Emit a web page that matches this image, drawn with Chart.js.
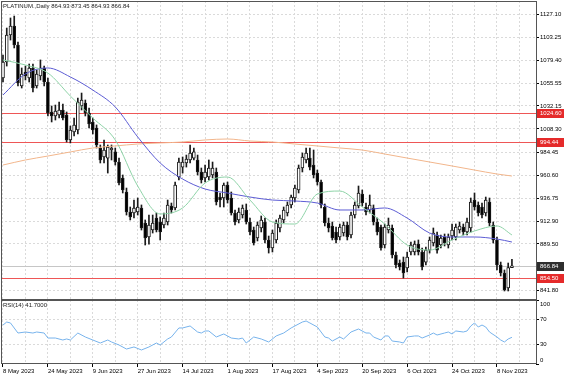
<!DOCTYPE html>
<html><head><meta charset="utf-8">
<script src="https://cdn.jsdelivr.net/npm/chart.js@4.4.0/dist/chart.umd.min.js"></script>
<style>
html,body{margin:0;padding:0;background:#fff;width:564px;height:376px;overflow:hidden;}
#wrap{position:relative;width:564px;height:376px;}
canvas{position:absolute;left:0;}
#main{top:0}
#rsi{top:300px}
.lbl{position:absolute;font:6px "Liberation Sans",Arial,sans-serif;color:#222;white-space:pre;line-height:7px;}
</style></head><body>
<div id="wrap">
<canvas id="main" width="564" height="300"></canvas>
<canvas id="rsi" width="564" height="76"></canvas>
<div class="lbl" style="left:3px;top:3px">PLATINUM.,Daily 864.93 873.45 864.93 866.84</div>
<div class="lbl" style="left:3px;top:302px">RSI(14) 41.7000</div>
</div>
<script>
// ---------- data ----------
const dateLabels = ['8 May 2023','24 May 2023','9 Jun 2023','27 Jun 2023','14 Jul 2023','1 Aug 2023','17 Aug 2023','4 Sep 2023','20 Sep 2023','6 Oct 2023','24 Oct 2023','8 Nov 2023'];
const priceTicks = [1127.10,1103.25,1079.40,1055.55,1032.15,1008.30,984.45,960.60,936.75,912.90,889.50,841.80];
const rsiTicks = [0,30,70,100];
const hLevels = [1024.60, 994.44, 854.50];
const bidPrice = 866.84;

const openP = [1060.9,1077.5,1105.4,1114.7,1095.1,1052.7,1067.1,1060.9,1071.3,1052.7,
1063.0,1071.3,1056.8,1025.8,1021.7,1022.7,1027.9,1022.7,996.9,1005.1,
1007.2,1032.0,1035.1,1024.8,1015.5,1009.3,988.6,979.3,978.2,986.5,
984.5,974.1,957.6,943.1,922.4,921.4,922.4,926.6,911.1,896.6,
903.8,916.2,912.1,909.0,912.1,928.6,926.6,958.6,968.9,973.1,
976.2,978.2,976.2,963.8,957.6,958.6,960.7,963.8,937.9,936.9,
950.3,936.9,921.4,914.2,919.3,924.5,912.1,903.8,895.6,905.9,
912.1,893.5,885.2,893.5,905.9,914.2,921.4,929.7,936.9,945.2,
967.9,976.2,978.2,971.0,962.7,953.4,927.6,911.1,908.0,901.8,
896.6,900.7,909.0,898.7,919.3,928.6,941.0,927.6,924.5,926.6,
912.1,906.9,888.3,903.8,905.9,878.0,869.7,870.7,864.5,881.1,
881.1,889.3,881.1,870.7,883.1,890.4,898.7,888.3,896.6,888.3,
897.6,896.6,903.8,906.9,901.8,905.9,934.8,929.7,927.6,921.4,
932.8,909.0,893.5,867.6,859.4,843.9,864.93];
const highP = [1084.7,1112.6,1123.0,1125.0,1098.2,1071.3,1073.3,1075.4,1075.4,1069.2,
1079.6,1073.3,1060.9,1032.0,1033.0,1036.1,1034.1,1025.8,1011.3,1019.6,
1040.3,1045.4,1038.2,1029.9,1019.6,1012.4,991.7,996.9,991.7,991.7,
988.6,978.2,960.7,947.2,927.6,934.8,936.9,929.7,914.2,919.3,
919.3,921.4,917.3,921.4,934.8,931.7,953.4,978.2,979.3,981.3,
991.7,988.6,981.3,967.9,971.0,976.2,974.1,967.9,942.1,952.4,
953.4,943.1,924.5,926.6,929.7,930.7,916.2,906.9,912.1,918.3,
916.2,897.6,903.8,914.2,919.3,927.6,932.8,940.0,950.3,971.0,
983.4,988.6,988.6,986.5,965.8,955.5,930.7,916.2,912.1,906.9,
910.0,912.1,912.1,922.4,932.8,949.3,945.2,931.7,940.0,929.7,
916.2,909.0,910.0,916.2,909.0,881.1,872.8,875.9,881.1,891.4,
892.5,893.5,885.2,886.2,896.6,905.9,901.8,898.7,899.7,899.7,
910.0,910.0,912.1,910.0,916.2,936.9,942.1,932.8,931.7,937.9,
936.9,912.1,896.6,870.7,862.5,869.7,873.45];
const lowP = [1056.8,1073.3,1100.2,1092.0,1052.7,1050.6,1058.9,1056.8,1046.5,1050.6,
1058.9,1052.7,1021.7,1015.5,1017.5,1019.6,1017.5,994.8,993.8,1001.0,
1003.1,1027.9,1021.7,1009.3,1003.1,988.6,973.1,973.1,962.7,976.2,
971.0,950.3,942.1,919.3,914.2,916.2,919.3,903.8,888.3,889.3,
900.7,901.8,893.5,905.9,909.0,921.4,924.5,955.5,962.7,968.9,
973.1,976.2,960.7,952.4,953.4,955.5,957.6,929.7,927.6,927.6,
931.7,919.3,909.0,911.1,916.2,910.0,898.7,888.3,892.5,901.8,
890.4,880.0,881.1,890.4,901.8,911.1,918.3,926.6,932.8,942.1,
963.8,973.1,965.8,957.6,950.3,926.6,908.0,901.8,893.5,890.4,
893.5,897.6,893.5,895.6,916.2,926.6,928.6,919.3,921.4,909.0,
898.7,883.1,885.2,900.7,874.9,864.5,862.5,854.2,860.4,878.0,
878.0,878.0,862.5,867.6,880.0,887.3,880.0,885.2,887.3,885.2,
893.5,893.5,900.7,898.7,898.7,901.8,924.5,918.3,916.2,918.3,
908.0,890.4,862.5,856.3,840.8,840.8,864.93];
const closeP = [1077.5,1105.4,1114.7,1095.1,1055.8,1065.1,1063.0,1071.3,1050.6,1065.1,
1071.3,1056.8,1024.8,1021.7,1026.8,1027.9,1019.6,996.9,1007.2,1012.4,
1036.1,1038.2,1024.8,1013.4,1007.2,991.7,976.2,986.5,989.6,988.6,
974.1,952.4,945.2,922.4,917.3,926.6,927.6,905.9,895.6,909.0,
911.1,903.8,901.8,916.2,929.7,924.5,950.3,974.1,974.1,977.2,
983.4,984.5,963.8,955.5,963.8,967.9,967.9,932.8,934.8,950.3,
934.8,921.4,912.1,922.4,926.6,912.1,901.8,890.4,909.0,914.2,
893.5,885.2,900.7,911.1,916.2,924.5,929.7,937.9,947.2,967.9,
979.3,983.4,968.9,960.7,953.4,929.7,911.1,905.9,895.6,893.5,
906.9,909.0,896.6,919.3,929.7,942.1,931.7,922.4,929.7,912.1,
901.8,885.2,906.9,909.0,878.0,867.6,865.6,859.4,875.9,888.3,
889.3,881.1,865.6,883.1,893.5,900.7,883.1,895.6,890.4,896.6,
903.8,906.9,908.0,901.8,912.1,932.8,927.6,921.4,919.3,934.8,
911.1,893.5,867.6,859.4,841.8,864.9,866.84];

const maIdx  = [0,6,12,18,24,30,36,42,48,54,60,66,72,78,84,90,96,102,108,114,120,126,132,136];
const maFast = [1079.6,1074.4,1066.1,1042.3,1019.6,996.9,949.3,920.4,926.6,952.4,958.6,934.8,912.1,910.0,941.0,944.1,927.6,910.0,888.3,883.1,893.5,902.8,908.0,898.7];
const maMid  = [1043.4,1065.1,1071.3,1062.0,1048.5,1031.0,1000.0,973.1,956.5,946.2,942.1,937.9,934.8,933.8,931.7,924.5,924.5,926.6,916.2,900.7,896.6,896.6,894.5,891.4];
const maSlow = [971.0,976.2,980.3,984.5,988.6,990.7,992.7,993.8,994.8,996.9,997.9,995.8,994.8,992.7,990.7,988.6,986.5,982.4,978.2,974.1,970.0,965.8,961.7,959.6];

const rsiIdx = [0,1,2,4,6,8,9,11,12,14,16,17,18,20,22,24,26,28,29,31,33,35,37,39,41,42,44,45,47,48,50,52,53,54,55,57,59,61,63,64,65,67,69,71,73,75,77,80,81,82,84,86,87,88,90,91,93,95,97,98,99,101,102,103,104,106,107,108,110,111,112,114,115,116,118,119,120,121,123,124,125,126,127,128,129,130,132,133,134,135,136];
const rsiVal = [60.9,65.6,64.1,48.4,50.0,48.4,50.0,48.4,40.6,40.6,37.5,39.1,37.5,48.4,42.2,37.5,32.8,37.5,34.4,29.7,23.4,26.6,21.9,26.6,32.8,29.7,39.1,42.2,56.3,56.3,59.4,50.0,48.4,51.6,51.6,42.2,46.9,40.6,39.1,40.6,32.8,42.2,39.1,34.4,43.8,48.4,56.3,65.6,67.2,64.1,57.8,42.2,40.6,35.9,42.2,39.1,50.0,54.7,48.4,48.4,42.2,37.5,43.8,43.8,35.9,34.4,32.8,42.2,43.8,43.8,40.6,45.3,48.4,45.3,48.4,50.0,46.9,51.6,50.0,51.6,59.4,64.1,57.8,60.9,57.8,50.0,42.2,37.5,34.4,39.1,41.7];

// ---------- layout / style ----------
const X_MIN = -0.534, X_MAX = 142.43;
const Y_MIN = 832.5, Y_MAX = 1140.54;
const gridX = []; for (let i = 0; i <= 138; i += 6) gridX.push(i);
const FONT = '"Liberation Sans", Arial, sans-serif';
const GRID = '#dadada';
Chart.defaults.font.family = FONT;
Chart.defaults.font.size = 6;
Chart.defaults.color = '#000';

const bodyColors = openP.map((o,i)=> closeP[i] >= o ? '#ffffff' : '#000000');
const pts = (xs, ys) => xs.map((x,k)=>({x, y: ys[k]}));

const mainDecor = {
  id: 'mainDecor',
  beforeDatasetsDraw(chart){
    const {ctx, chartArea:a, scales:{y}} = chart;
    ctx.save();
    ctx.lineWidth = 1;
    const bp = Math.round(y.getPixelForValue(bidPrice)) + 0.5;
    ctx.strokeStyle = '#c6c6c6';
    ctx.beginPath(); ctx.moveTo(a.left, bp); ctx.lineTo(a.right, bp); ctx.stroke();
    ctx.strokeStyle = '#ee5656';
    hLevels.forEach(v=>{
      const p = Math.round(y.getPixelForValue(v)) + 0.5;
      ctx.beginPath(); ctx.moveTo(a.left, p); ctx.lineTo(a.right, p); ctx.stroke();
    });
    ctx.restore();
  },
  afterDraw(chart){
    const {ctx, chartArea:a, scales:{y}} = chart;
    ctx.save();
    ctx.strokeStyle = '#555'; ctx.lineWidth = 1;
    ctx.strokeRect(a.left+0.5, a.top+0.5, a.right-a.left, a.bottom-a.top);
    ctx.font = '6px ' + FONT;
    ctx.textBaseline = 'middle';
    ctx.textAlign = 'left';
    const box = (v, bg) => {
      const p = Math.round(y.getPixelForValue(v));
      ctx.fillStyle = bg; ctx.fillRect(a.right+1, p-4, 27, 9);
      ctx.fillStyle = '#fff'; ctx.fillText(v.toFixed(2), a.right+4, p+0.5);
    };
    hLevels.forEach(v=>box(v, '#e52a2a'));
    box(bidPrice, '#2e2e2e');
    ctx.restore();
  }
};

new Chart(document.getElementById('main'), {
  type: 'bar',
  data: { datasets: [
    {type:'line', data: pts(maIdx, maFast), borderColor:'#8ed3a7', borderWidth:1, pointRadius:0, cubicInterpolationMode:'monotone', order:0},
    {type:'line', data: pts(maIdx, maMid), borderColor:'#5c5cd4', borderWidth:1, pointRadius:0, cubicInterpolationMode:'monotone', order:0},
    {type:'line', data: pts(maIdx, maSlow), borderColor:'#f2b68c', borderWidth:1, pointRadius:0, cubicInterpolationMode:'monotone', order:0},
    {type:'bar', data: openP.map((o,i)=>({x:i, y:[o, closeP[i]]})), backgroundColor: bodyColors, borderColor:'#1a1a1a', borderWidth:1, borderSkipped:false, barThickness:3, grouped:false, minBarLength:1, order:1},
    {type:'bar', data: lowP.map((l,i)=>({x:i, y:[l, highP[i]]})), backgroundColor:'#1a1a1a', borderWidth:0, barThickness:1, grouped:false, order:2}
  ]},
  options: {
    responsive:false, animation:false,
    layout:{padding:{left:1, top:1, right:0, bottom:1}},
    plugins:{legend:{display:false}, tooltip:{enabled:false}},
    scales:{
      x:{type:'linear', min:X_MIN, max:X_MAX, offset:false,
         afterBuildTicks: s=>{ s.ticks = gridX.map(v=>({value:v})); },
         ticks:{display:false},
         grid:{color:GRID, drawTicks:false, offset:false},
         border:{display:false, dash:[2,2]},
         afterFit: s=>{ s.height = 0; s.paddingLeft = 0; s.paddingRight = 0; }},
      y:{type:'linear', position:'right', min:Y_MIN, max:Y_MAX, beginAtZero:false,
         afterBuildTicks: s=>{ s.ticks = priceTicks.map(v=>({value:v})); },
         ticks:{padding:1, color:'#000', font:{size:6}, callback: v => Number(v).toFixed(2)},
         grid:{color:GRID, drawTicks:true, tickLength:3, tickColor:'#000'},
         border:{display:false, dash:[2,2]},
         afterFit: s=>{ s.width = 28; s.paddingTop = 0; s.paddingBottom = 0; }}
    }
  },
  plugins:[mainDecor]
});

const rsiDecor = {
  id: 'rsiDecor',
  afterDraw(chart){
    const {ctx, chartArea:a, scales:{y}} = chart;
    ctx.save();
    ctx.strokeStyle = '#555'; ctx.lineWidth = 1;
    ctx.strokeRect(a.left+0.5, a.top+0.5, a.right-a.left, a.bottom-a.top-1);
    ctx.font = '6px ' + FONT; ctx.fillStyle = '#000';
    ctx.textBaseline = 'middle'; ctx.textAlign = 'left';
    rsiTicks.forEach(v=>{
      let p = y.getPixelForValue(v);
      p = Math.min(Math.max(p, a.top+4), a.bottom-4);
      ctx.fillText(String(v), a.right+4, p);
    });
    ctx.restore();
  }
};

new Chart(document.getElementById('rsi'), {
  type:'line',
  data:{datasets:[{data: pts(rsiIdx, rsiVal), borderColor:'#77b3ec', borderWidth:1, pointRadius:0, tension:0}]},
  options:{
    responsive:false, animation:false,
    layout:{padding:{left:1, top:0, right:0, bottom:0}},
    plugins:{legend:{display:false}, tooltip:{enabled:false}},
    scales:{
      x:{type:'linear', min:X_MIN, max:X_MAX, offset:false,
         afterBuildTicks: s=>{ s.ticks = gridX.map(v=>({value:v})); },
         ticks:{autoSkip:false, maxRotation:0, minRotation:0, align:'start', padding:1, color:'#000', font:{size:6},
                callback: v => (v % 12 === 0 && v/12 < dateLabels.length) ? dateLabels[v/12] : ''},
         grid:{color:GRID, drawTicks:true, tickLength:3, offset:false,
               tickColor: c => (c.tick && c.tick.value % 12 === 0 && c.tick.value/12 < dateLabels.length) ? '#000' : 'rgba(0,0,0,0)'},
         border:{display:false, dash:[2,2]},
         afterFit: s=>{ s.height = 12; s.paddingLeft = 0; s.paddingRight = 0; }},
      y:{type:'linear', position:'right', min:0, max:100,
         afterBuildTicks: s=>{ s.ticks = rsiTicks.map(v=>({value:v})); },
         ticks:{display:false},
         grid:{color: c => (c.tick && (c.tick.value === 30 || c.tick.value === 70)) ? GRID : 'rgba(0,0,0,0)',
               drawTicks:true, tickLength:3, tickColor:'#000'},
         border:{display:false, dash:[2,2]},
         afterFit: s=>{ s.width = 28; s.paddingTop = 0; s.paddingBottom = 0; }}
    }
  },
  plugins:[rsiDecor]
});
</script>
</body></html>
